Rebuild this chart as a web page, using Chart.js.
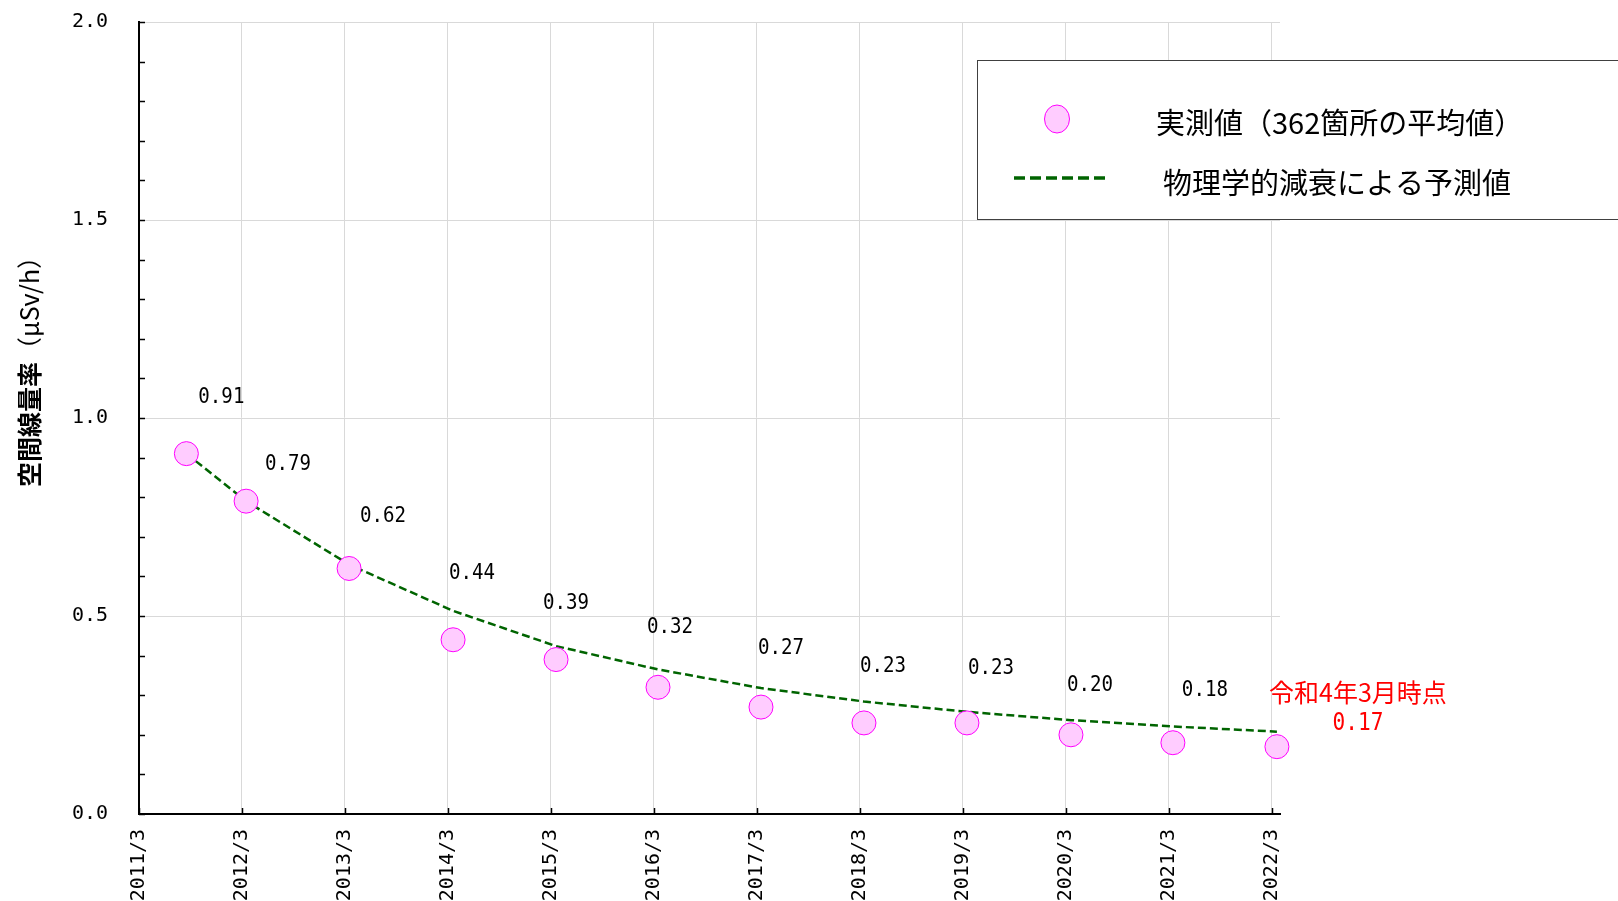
<!DOCTYPE html>
<html>
<head>
<meta charset="utf-8">
<script src="https://cdn.jsdelivr.net/npm/chart.js@4"></script>
<style>
html,body{margin:0;padding:0;background:#ffffff;overflow:hidden;}
#wrap{width:1618px;height:901px;position:relative;}
canvas{display:block;}
</style>
</head>
<body>
<div id="wrap"><canvas id="c" width="1618" height="901" style="width:1618px;height:901px;"></canvas></div>
<script>
// ---- data ----
const tickYears = [0,1,2,3,4,5,6,7,8,9,10,11];
const tickLabels = ['2011/3','2012/3','2013/3','2014/3','2015/3','2016/3','2017/3','2018/3','2019/3','2020/3','2021/3','2022/3'];
const surveyYears = [0.46,1.04,2.04,3.05,4.05,5.04,6.04,7.04,8.04,9.05,10.04,11.05];
const measured = [0.91,0.79,0.62,0.44,0.39,0.32,0.27,0.23,0.23,0.20,0.18,0.17];
const predicted = [0.91,0.79,0.63,0.513,0.424,0.365,0.318,0.284,0.258,0.237,0.221,0.208];
const legendLabels = ['実測値（362箇所の平均値）','物理学的減衰による予測値'];
const yTitleMain = '空間線量率';
const yTitleUnit = '（μSv/h）';
const noteText = '令和4年3月時点';

const NUM_FONT = '"DejaVu Sans Mono", monospace';
const JP_FONT = '"Noto Sans CJK JP", sans-serif';

// label offsets (px) relative to each point, style only
const labelOffsets = [[35,-56],[42,-37],[34,-52],[19,-66],[10,-56],[12,-60],[20,-59],[19,-57],[24,-55],[19,-50],[32,-52],[81,-23]];

const pointsData = surveyYears.map((x,i)=>({x:x,y:measured[i]}));
const lineData = surveyYears.map((x,i)=>({x:x,y:predicted[i]}));

const isMajor = v => Math.abs(v*2 - Math.round(v*2)) < 1e-6;

function narrowText(ctx, txt, x, y, sx){
  ctx.save();
  ctx.translate(x, y);
  ctx.scale(sx, 1);
  ctx.fillText(txt, 0, 0);
  ctx.restore();
}

const decoPlugin = {
  id:'deco',
  afterDraw(chart){
    const ctx = chart.ctx;
    const xs = chart.scales.x, ys = chart.scales.y;
    const ca = chart.chartArea;
    ctx.save();
    // inner tick marks
    ctx.strokeStyle = '#000';
    ctx.lineWidth = 1.5;
    ys.ticks.forEach(t=>{
      const py = Math.round(ys.getPixelForValue(t.value))+0.5;
      ctx.beginPath(); ctx.moveTo(ca.left, py); ctx.lineTo(ca.left+6, py); ctx.stroke();
    });
    xs.ticks.forEach(t=>{
      const px = Math.round(xs.getPixelForValue(t.value))+0.5;
      ctx.beginPath(); ctx.moveTo(px, ca.bottom); ctx.lineTo(px, ca.bottom-6); ctx.stroke();
    });
    // data labels
    ctx.textAlign='center'; ctx.textBaseline='middle';
    const meta = chart.getDatasetMeta(0);
    meta.data.forEach((el,i)=>{
      const off = labelOffsets[i];
      const txt = measured[i].toFixed(2);
      if(i === measured.length-1){
        ctx.fillStyle = '#ff0000';
        ctx.font = '25px ' + JP_FONT;
        ctx.fillText(noteText, el.x+off[0], el.y+off[1]-31);
        ctx.font = '24px ' + NUM_FONT;
        narrowText(ctx, txt, el.x+off[0], el.y+off[1], 0.88);
      } else {
        ctx.fillStyle = '#000';
        ctx.font = '22px ' + NUM_FONT;
        narrowText(ctx, txt, el.x+off[0], el.y+off[1], 0.87);
      }
    });
    // y title
    ctx.save();
    ctx.translate(29, 487);
    ctx.rotate(-Math.PI/2);
    ctx.textAlign='left'; ctx.textBaseline='middle'; ctx.fillStyle='#000';
    ctx.font = 'bold 25px ' + JP_FONT;
    ctx.fillText(yTitleMain, 0, 0);
    const w = ctx.measureText(yTitleMain).width;
    ctx.font = '25px ' + JP_FONT;
    ctx.fillText(yTitleUnit, w, 0);
    ctx.restore();
    // legend box
    ctx.fillStyle='#fff';
    ctx.fillRect(977.5, 60.5, 700, 159);
    ctx.strokeStyle='#404040'; ctx.lineWidth=1;
    ctx.strokeRect(977.5, 60.5, 700, 159);
    // legend marker 1
    ctx.beginPath();
    ctx.ellipse(1057, 119, 12.5, 14, 0, 0, Math.PI*2);
    ctx.fillStyle='#ffccff'; ctx.fill();
    ctx.strokeStyle='#ff00ff'; ctx.lineWidth=1; ctx.stroke();
    // legend marker 2
    ctx.beginPath();
    ctx.setLineDash([11,5]);
    ctx.strokeStyle='#006400'; ctx.lineWidth=3.5;
    ctx.moveTo(1014,178); ctx.lineTo(1110,178); ctx.stroke();
    ctx.setLineDash([]);
    ctx.fillStyle='#000';
    ctx.textAlign='left'; ctx.textBaseline='middle';
    ctx.font='29px ' + JP_FONT;
    ctx.fillText(legendLabels[0], 1156, 123);
    ctx.fillText(legendLabels[1], 1163, 183);
    ctx.restore();
  }
};

new Chart(document.getElementById('c'), {
  type:'scatter',
  data:{
    datasets:[
      {
        label:legendLabels[0],
        data:pointsData,
        showLine:false,
        pointRadius:12,
        pointHoverRadius:12,
        pointBackgroundColor:'#ffccff',
        pointBorderColor:'#ff00ff',
        pointBorderWidth:1,
        clip:false
      },
      {
        label:legendLabels[1],
        data:lineData,
        showLine:true,
        pointRadius:0,
        borderColor:'#006400',
        borderWidth:2.5,
        borderDash:[8,4],
        tension:0,
        fill:false,
        clip:false
      }
    ]
  },
  options:{
    responsive:false,
    maintainAspectRatio:false,
    animation:false,
    devicePixelRatio:1,
    layout:{padding:{left:0,top:22,right:338,bottom:0}},
    plugins:{legend:{display:false},tooltip:{enabled:false}},
    scales:{
      x:{
        type:'linear',
        min:0, max:11.08,
        afterBuildTicks(scale){ scale.ticks = tickYears.map(v=>({value:v})); },
        afterFit(scale){ scale.height = 87; scale.paddingLeft = 0; scale.paddingRight = 0; },
        ticks:{
          autoSkip:false,
          minRotation:90, maxRotation:90,
          padding:15,
          color:'#000',
          font:{family:NUM_FONT, size:20},
          callback:(v,i)=>tickLabels[i]
        },
        grid:{color:'#d9d9d9', lineWidth:1, drawTicks:false},
        border:{color:'#000', width:2}
      },
      y:{
        min:0, max:2,
        afterFit(scale){ scale.width = 139; scale.paddingTop = 0; scale.paddingBottom = 0; },
        ticks:{
          stepSize:0.1,
          autoSkip:false,
          padding:31,
          color:'#000',
          font:{family:NUM_FONT, size:20},
          callback:(v)=> isMajor(v) ? Number(v).toFixed(1) : ''
        },
        grid:{
          color:(c)=> (c.tick && isMajor(c.tick.value)) ? '#d9d9d9' : 'rgba(0,0,0,0)',
          lineWidth:1, drawTicks:false
        },
        border:{color:'#000', width:2}
      }
    }
  },
  plugins:[decoPlugin]
});
</script>
</body>
</html>
